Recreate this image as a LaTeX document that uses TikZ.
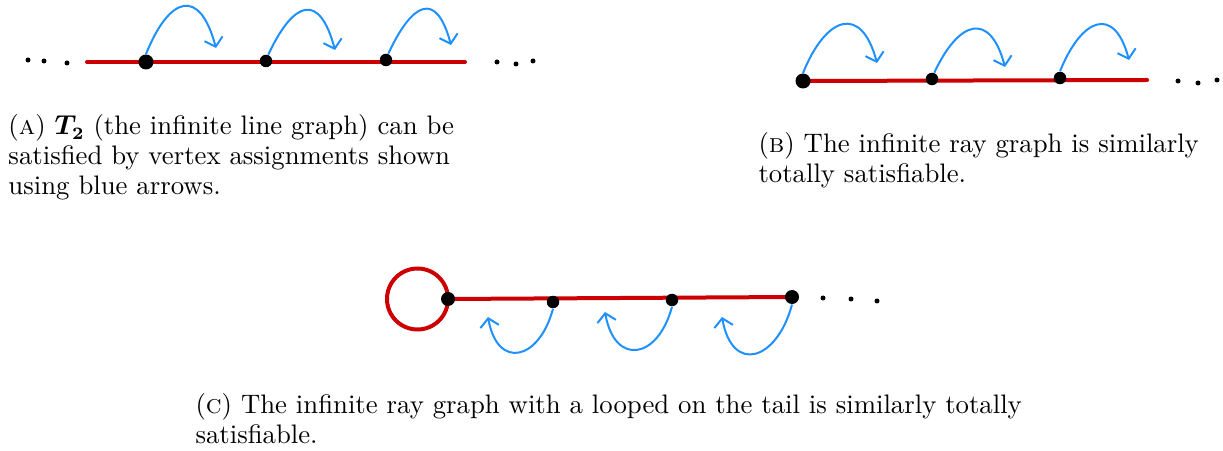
\documentclass[tikz,border=0pt]{standalone}
\usepackage{amsmath}
\usepackage{bm}
\usetikzlibrary{arrows.meta, backgrounds}

\definecolor{edgered}{RGB}{204,0,0}
\definecolor{hopblue}{RGB}{30,144,255}

\begin{document}
\begin{tikzpicture}[
    x=0.4pt, y=0.4pt,
    vertex/.style={circle, fill=black, inner sep=0pt, minimum size=#1},
    vertex/.default=5pt,
    dot/.style={circle, fill=black, inner sep=0pt, minimum size=2pt},
    edge/.style={draw=edgered, line width=1.6pt, line cap=round},
    hop/.style={draw=hopblue, line width=0.8pt, -{Straight Barb[length=3.3pt, width=7.5pt]}},
    caption/.style={anchor=base west, align=left, inner sep=0pt,
                    font=\fontsize{10.7pt}{12pt}\selectfont}
]
\useasboundingbox (0,0) rectangle (1223,-451);

% (a) the infinite line
\node[dot] (al1) at (28,-60) {};
\node[dot] (al2) at (44,-61) {};
\node[dot] (al3) at (67,-63) {};
\coordinate (aL) at (87,-62);
\coordinate (aR) at (465,-62);
\node[dot] (ar1) at (497,-62) {};
\node[dot] (ar2) at (516,-64) {};
\node[dot] (ar3) at (533,-61) {};

\node[vertex=6pt] (a1) at (146,-62) {};
\node[vertex] (a2) at (266,-61) {};
\node[vertex] (a3) at (386,-60) {};

\coordinate (ah1) at (216,-48);
\coordinate (ah2) at (335,-50);
\coordinate (ah3) at (451,-45);
\draw[hop] (a1.north) to[out=68, in=105, looseness=2.3] (ah1);
\draw[hop] (a2.70) to[out=65, in=105, looseness=2.3] (ah2);
\draw[hop] (a3.70) to[out=65, in=105, looseness=2.3] (ah3);

\node[caption] (capA) at (8,-195) {(\textsc{a}) $\bm{T_2}$ (the infinite line graph) can be\\
  satisfied by vertex assignments shown\\
  using blue arrows.};

% (b) the infinite ray
\coordinate (bR) at (1147,-80);
\node[dot] (br1) at (1178,-81) {};
\node[dot] (br2) at (1198,-83) {};
\node[dot] (br3) at (1217,-80) {};

\node[vertex=6pt] (b1) at (803,-81) {};
\node[vertex] (b2) at (932,-79) {};
\node[vertex] (b3) at (1060,-78) {};

\coordinate (bh1) at (877,-63);
\coordinate (bh2) at (1005,-67);
\coordinate (bh3) at (1129,-60);
\draw[hop] (b1.north) to[out=68, in=105, looseness=2.1] (bh1);
\draw[hop] (b2.70) to[out=65, in=105, looseness=2.1] (bh2);
\draw[hop] (b3.north) to[out=68, in=105, looseness=2.1] (bh3);

\node[caption] (capB) at (758,-183) {(\textsc{b}) The infinite ray graph is similarly\\
  totally satisfiable.};

% (c) the ray with a loop on its tail
\node[vertex=5.6pt] (c0) at (448,-299) {};
\node[vertex] (c1) at (553,-302) {};
\node[vertex] (c2) at (672,-300) {};
\node[vertex=5.6pt] (c3) at (792,-297) {};
\node[dot] (cr1) at (823,-298) {};
\node[dot] (cr2) at (851,-299) {};
\node[dot] (cr3) at (877,-301) {};

\coordinate (ch1) at (488,-317);
\coordinate (ch2) at (605,-312);
\coordinate (ch3) at (722,-317);
\draw[hop] (c1.south) to[out=-105, in=-80, looseness=2.1] (ch1);
\draw[hop] (c2.south) to[out=-105, in=-80, looseness=2.1] (ch2);
\draw[hop] (c3.south) to[out=-105, in=-80, looseness=2.1] (ch3);

\node[caption] (capC) at (195,-443) {(\textsc{c}) The infinite ray graph with a looped on the tail is similarly totally\\
  satisfiable.};

% red edges behind the vertices
\begin{scope}[on background layer]
\draw[edge] (aL) -- (aR);
\draw[edge] (b1.center) -- (bR);
\draw[edge] (c0.center) arc[start angle=0, end angle=360, radius=12.2pt];
\draw[edge] (c0.center) -- (c3.center);
\end{scope}

\end{tikzpicture}
\end{document}
